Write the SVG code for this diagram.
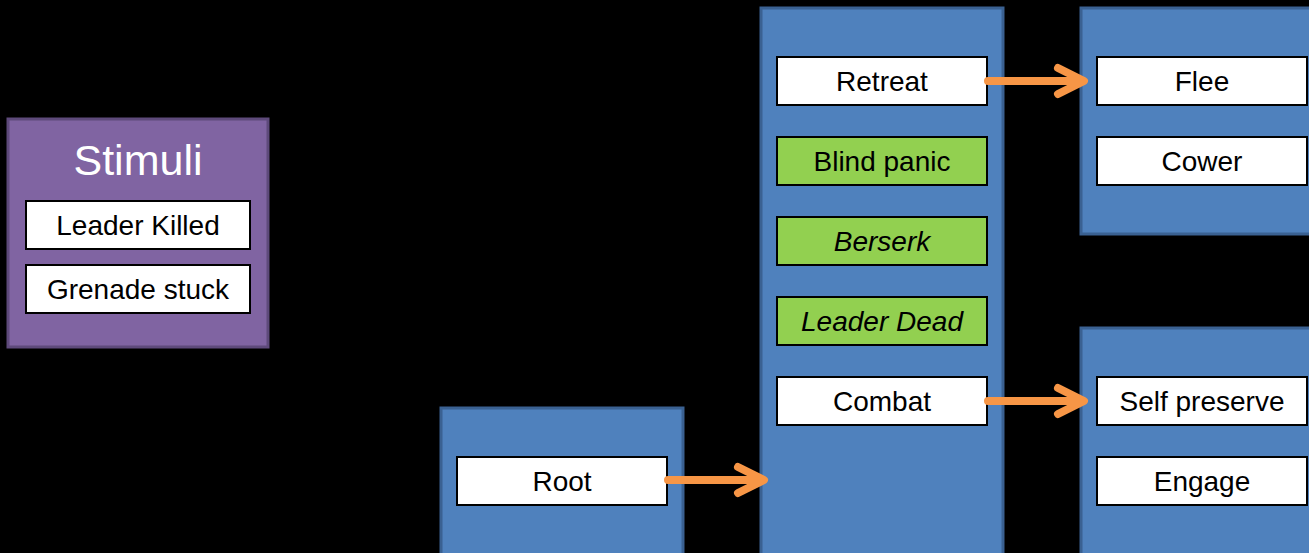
<svg xmlns="http://www.w3.org/2000/svg" width="1309" height="553" viewBox="0 0 1309 553">
<style>
.bg{fill:#000}
.panel{fill:#4f81bd;stroke:#3a6192;stroke-width:3}
.stim{fill:#8064a2;stroke:#5e4a7b;stroke-width:3}
.item{fill:#fff;stroke:#000;stroke-width:2}
.green{fill:#92d050;stroke:#000;stroke-width:2}
.t{font-family:"Liberation Sans",Arial,sans-serif;font-size:28px;fill:#000;text-anchor:middle}
.i{font-style:italic}
.title{font-family:"Liberation Sans",Arial,sans-serif;font-size:43px;fill:#fff;text-anchor:middle}
.arr{fill:none;stroke:#f79646;stroke-width:8;stroke-linecap:round;stroke-linejoin:round}
</style>
<rect class="bg" x="0" y="0" width="1309" height="553"/>
<g id="stimuli">
<rect class="stim" x="8" y="119" width="260" height="228"/>
<text class="title" x="138" y="175">Stimuli</text>
<rect class="item" x="26" y="201" width="224" height="48"/>
<text class="t" x="138" y="235">Leader Killed</text>
<rect class="item" x="26" y="265" width="224" height="48"/>
<text class="t" x="138" y="299">Grenade stuck</text>
</g>
<g id="root-panel">
<rect class="panel" x="441" y="408" width="242" height="160"/>
<g id="root">
<rect class="item" x="457" y="457" width="210" height="48"/>
<text class="t" x="562" y="491">Root</text>
</g>
</g>
<g id="middle-panel">
<rect class="panel" x="761" y="8" width="242" height="560"/>
<g id="retreat"><rect class="item" x="777" y="57" width="210" height="48"/><text class="t" x="882" y="91">Retreat</text></g>
<g id="blind-panic"><rect class="green" x="777" y="137" width="210" height="48"/><text class="t" x="882" y="171">Blind panic</text></g>
<g id="berserk"><rect class="green" x="777" y="217" width="210" height="48"/><text class="t i" x="882" y="251">Berserk</text></g>
<g id="leader-dead"><rect class="green" x="777" y="297" width="210" height="48"/><text class="t i" x="882" y="331">Leader Dead</text></g>
<g id="combat"><rect class="item" x="777" y="377" width="210" height="48"/><text class="t" x="882" y="411">Combat</text></g>
</g>
<g id="retreat-panel">
<rect class="panel" x="1081" y="8" width="260" height="226"/>
<g id="flee"><rect class="item" x="1097" y="57" width="210" height="48"/><text class="t" x="1202" y="91">Flee</text></g>
<g id="cower"><rect class="item" x="1097" y="137" width="210" height="48"/><text class="t" x="1202" y="171">Cower</text></g>
</g>
<g id="combat-panel">
<rect class="panel" x="1081" y="328" width="260" height="240"/>
<g id="self-preserve"><rect class="item" x="1097" y="377" width="210" height="48"/><text class="t" x="1202" y="411">Self preserve</text></g>
<g id="engage"><rect class="item" x="1097" y="457" width="210" height="48"/><text class="t" x="1202" y="491">Engage</text></g>
</g>
<g id="connectors">
<path class="arr" d="M668 480 H762 M738 467 L764 480 L738 493"/>
<path class="arr" d="M988 81 H1082 M1058 68 L1084 81 L1058 94"/>
<path class="arr" d="M988 401 H1082 M1058 388 L1084 401 L1058 414"/>
</g>
</svg>
